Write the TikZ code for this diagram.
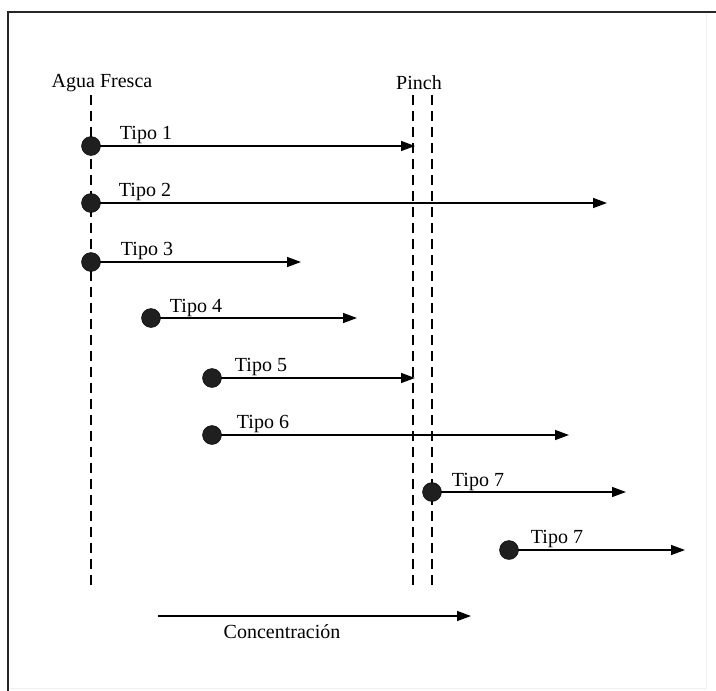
\documentclass[tikz,border=0pt]{standalone}
\usepackage{fontspec}
\setmainfont{Liberation Serif}
\usetikzlibrary{arrows.meta}
\begin{document}
\begin{tikzpicture}[x=1pt,y=-1pt,
  lbl/.style={font=\fontsize{20}{23}\selectfont, inner sep=0pt},
  stream/.style={circle, fill=black!88, draw=black, inner sep=0pt, minimum size=19pt},
  flow/.style={line width=1.4pt, -{Triangle[length=14pt,width=10pt]}},
  guide/.style={line width=1.4pt, dash pattern=on 10pt off 6pt}]
\useasboundingbox (0,0) rectangle (716,691);
\fill[white] (0,0) rectangle (716,691);
% frame
\draw[line width=2.2pt, black!85] (8,691) -- (8,12) -- (716,12);
\draw[line width=0.6pt, black!6] (706,14) -- (706,688) -- (10,688);
% headings
\node[lbl] (agua) at (102,83) {Agua Fresca};
\node[lbl] (pinch) at (419,83) {Pinch};
% vertical guides
\coordinate (fTop) at (91,95);  \coordinate (fBot) at (91,586);
\coordinate (p1Top) at (413,95); \coordinate (p1Bot) at (413,590);
\coordinate (p2Top) at (432,95); \coordinate (p2Bot) at (432,590);
\draw[guide] (fTop) -- (fBot);
\draw[guide] (p1Top) -- (p1Bot);
\draw[guide] (p2Top) -- (p2Bot);
% stream arrows, drawn before the dots so the dots sit on top
\coordinate (o1) at (91,146);  \coordinate (e1) at (415,146);
\coordinate (o2) at (91,203);  \coordinate (e2) at (607,203);
\coordinate (o3) at (91,262);  \coordinate (e3) at (301,262);
\coordinate (o4) at (151,318); \coordinate (e4) at (357,318);
\coordinate (o5) at (212,378); \coordinate (e5) at (415,378);
\coordinate (o6) at (212,435); \coordinate (e6) at (569,435);
\coordinate (o7) at (432,492); \coordinate (e7) at (626,492);
\coordinate (o8) at (509,550); \coordinate (e8) at (685,550);
\foreach \i in {1,...,8} \draw[flow] (o\i) -- (e\i);
\foreach \i in {1,...,8} \node[stream] (s\i) at (o\i) {};
\node[lbl] (t1) at (146,135) {Tipo 1};
\node[lbl] (t2) at (145,192) {Tipo 2};
\node[lbl] (t3) at (147,251) {Tipo 3};
\node[lbl] (t4) at (196,308) {Tipo 4};
\node[lbl] (t5) at (261,367) {Tipo 5};
\node[lbl] (t6) at (263,424) {Tipo 6};
\node[lbl] (t7) at (478,482) {Tipo 7};
\node[lbl] (t8) at (557,539) {Tipo 7};
% concentration axis
\coordinate (cS) at (158,616);
\coordinate (cE) at (471,616);
\draw[flow] (cS) -- (cE);
\node[lbl] (conc) at (282,632) {Concentración};
\end{tikzpicture}
\end{document}
